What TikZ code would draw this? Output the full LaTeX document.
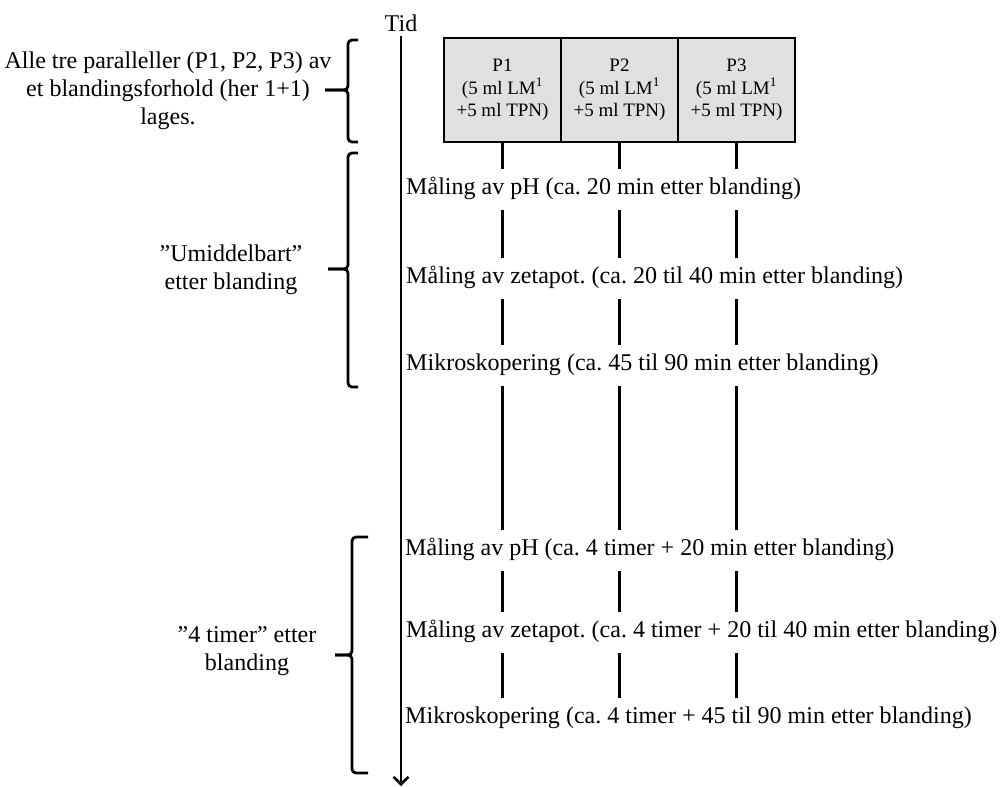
\documentclass[tikz,border=0pt]{standalone}
\usepackage{fontspec}
\setmainfont{Liberation Serif}
\usepackage{tikz}
\usetikzlibrary{arrows.meta,positioning}
\frenchspacing
\definecolor{cellgray}{RGB}{224,224,224}
\tikzset{
  % celle for hver parallell
  cell/.style={
    draw,
    line width=1.2pt,
    fill=cellgray,
    minimum width=3.51cm,
    minimum height=3.12cm,
    inner sep=0pt,
    outer sep=0pt,
    align=center,
    font=\fontsize{16.2}{19.2}\selectfont
  },
  % maaletekst langs tidsaksen
  steptext/.style={
    anchor=base west,
    inner sep=0pt,
    text height=0.75cm,
    text depth=0.48cm,
    font=\fontsize{20.5}{24}\selectfont
  },
  % forklaring til venstre
  sidetext/.style={align=center, font=\fontsize{20.5}{23.9}\selectfont},
  % strek mellom trinnene
  seg/.style={line width=2.4pt},
  timeline/.style={line width=2.2pt, -{Straight Barb[length=0.22cm,width=0.45cm]}},
  bracket/.style={line width=2.4pt, rounded corners=0.12cm},
}

\begin{document}
\begin{tikzpicture}[x=0.03cm, y=-0.03cm]
    \useasboundingbox (0,0) rectangle (1000,787);

    % Tidsakse
    \node[font=\fontsize{20.5}{24}\selectfont, anchor=base] (tid) at (401,32) {Tid};
    \coordinate (slutt) at (401,786);
    \draw[timeline] (tid.south) -- (slutt);

    % Parallellene
    \node[cell] (p1) at (502.5,90) {P1\\(5 ml LM\textsuperscript{1}\\+5 ml TPN)};
    \node[cell, right=0pt of p1] (p2) {P2\\(5 ml LM\textsuperscript{1}\\+5 ml TPN)};
    \node[cell, right=0pt of p2] (p3) {P3\\(5 ml LM\textsuperscript{1}\\+5 ml TPN)};

    % Maalinger
    \node[steptext] (m1) at (406,194) {Måling av pH (ca. 20 min etter blanding)};
    \node[steptext] (m2) at (406,283) {Måling av zetapot. (ca. 20 til 40 min etter blanding)};
    \node[steptext] (m3) at (406,370) {Mikroskopering (ca. 45 til 90 min etter blanding)};
    \node[steptext] (m4) at (405,555) {Måling av pH (ca. 4 timer + 20 min etter blanding)};
    \node[steptext] (m5) at (406,637) {Måling av zetapot. (ca. 4 timer + 20 til 40 min etter blanding)};
    \node[steptext] (m6) at (405,723) {Mikroskopering (ca. 4 timer + 45 til 90 min etter blanding)};

    \foreach \c in {p1,p2,p3} {
        \draw[seg] (\c.south) -- (\c.south |- m1.north);
        \foreach \a/\b in {m1/m2,m2/m3,m3/m4,m4/m5,m5/m6}
            \draw[seg] (\c.south |- \a.south) -- (\c.south |- \b.north);
    }

    % Forklaringer med klammer
    \node[sidetext] (lages) at (168,91) {Alle tre paralleller (P1, P2, P3) av\\et blandingsforhold (her 1+1)\\lages.};
    \draw[bracket] (358,40) -- (348,40) -- (348,90) -- (325,90);
    \draw[bracket] (325,90) -- (348,90) -- (348,142) -- (358,142);

    \node[sidetext] (straks) at (231,270) {”Umiddelbart”\\etter blanding};
    \draw[bracket] (358,153) -- (348,153) -- (348,269) -- (328,269);
    \draw[bracket] (328,269) -- (348,269) -- (348,387) -- (358,387);

    \node[sidetext] (fire) at (247,651) {”4 timer” etter\\blanding};
    \draw[bracket] (368,537) -- (352,537) -- (352,655) -- (335,655);
    \draw[bracket] (335,655) -- (352,655) -- (352,773) -- (368,773);
\end{tikzpicture}
\end{document}
